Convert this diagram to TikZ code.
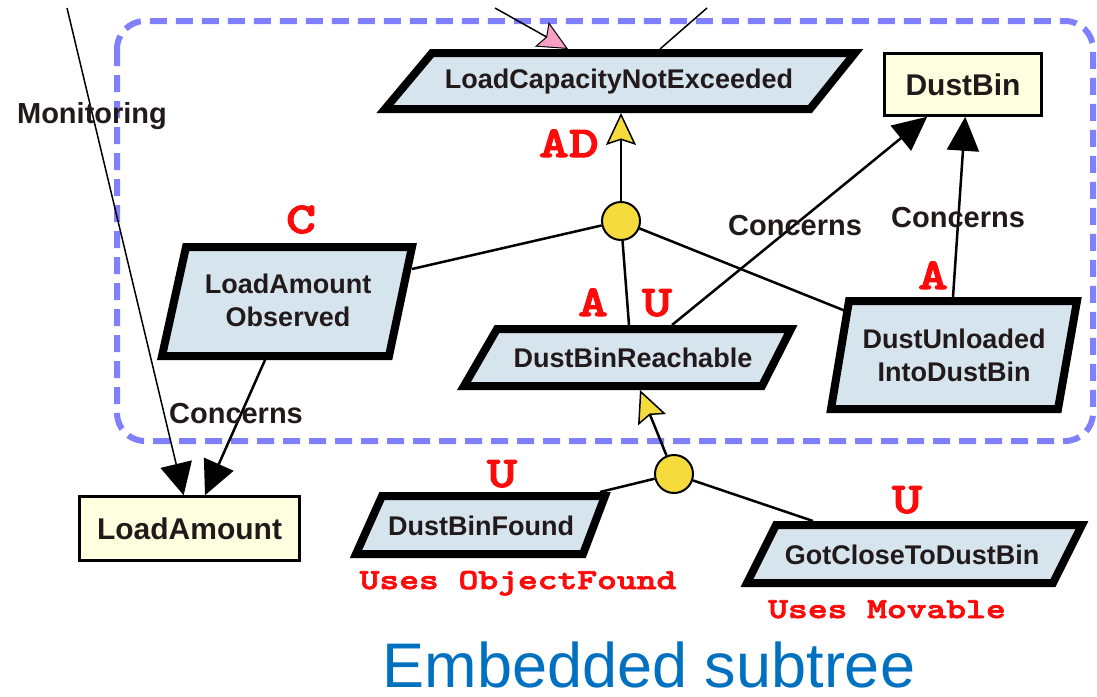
\documentclass[tikz,border=0pt]{standalone}
\usepackage{fontspec}
\setmainfont{Liberation Sans}
\newfontfamily\monotag{lmmonolt10-bold}[Extension=.otf, FakeStretch=1.3, FakeBold=2.5]
\usetikzlibrary{arrows.meta}

\definecolor{goalfill}{RGB}{214,228,238}
\definecolor{entfill}{RGB}{255,255,224}
\definecolor{andfill}{RGB}{245,220,60}
\definecolor{pinkfill}{RGB}{245,160,196}
\definecolor{frameblue}{RGB}{128,128,255}
\definecolor{capblue}{RGB}{0,112,192}
\definecolor{ink}{RGB}{34,26,26}
\definecolor{tagred}{RGB}{255,10,10}

\newcommand\goalfont{\fontsize{27}{33}\selectfont\bfseries}
\newcommand\entfont{\fontsize{30}{36}\selectfont\bfseries}
\newcommand\edgefont{\fontsize{29}{35}\selectfont\bfseries}
\newcommand\redtagfont{\fontsize{44}{50}\selectfont\monotag}
\newcommand\usesfont{\fontsize{29}{35}\selectfont\monotag}
\newcommand\capfont{\fontsize{63}{70}\selectfont}

\begin{document}
\begin{tikzpicture}[x=1pt,y=-1pt,
  scopeframe/.style={draw=frameblue, line width=6pt, dash pattern=on 17pt off 9pt, rounded corners=28pt},
  goal/.style={draw=black, line width=8pt, fill=goalfill, line join=miter, miter limit=20},
  gtext/.style={font=\goalfont, text=ink, inner sep=0pt, align=center},
  entity/.style={draw=black, line width=2.5pt, fill=entfill, font=\entfont, text=ink, inner sep=0pt},
  andnode/.style={circle, draw=black, line width=2pt, fill=andfill, minimum size=38pt, inner sep=0pt},
  link/.style={draw=black, line width=2.5pt},
  thin/.style={draw=black, line width=1.5pt},
  concern/.style={link, -{Triangle[length=34pt,width=32pt]}},
  monitor/.style={thin, -{Triangle[length=32pt,width=32pt]}},
  refine/.style={link, -{Stealth[length=32pt,width=30pt,inset=5pt,fill=andfill,line width=1.5pt]}},
  obstruct/.style={thin, -{Stealth[length=30pt,width=28pt,inset=5pt,fill=pinkfill,line width=1pt]}},
  elabel/.style={font=\edgefont, text=ink, inner sep=0pt, anchor=base},
  redtag/.style={font=\redtagfont, text=tagred, inner sep=0pt, anchor=base},
  usesnote/.style={font=\usesfont, text=tagred, inner sep=0pt, anchor=base}
]
\useasboundingbox (0,0) rectangle (1097,696);

% embedded subtree frame
\draw[scopeframe] (117,21) rectangle (1093,441);

% goal parallelograms
\path[goal] (432,53) -- (855,53) -- (810,109) -- (385,109) -- cycle;
\node[gtext, anchor=base] (lcne) at (619,88) {LoadCapacityNotExceeded};

\path[goal] (186,247) -- (412,247) -- (389,356) -- (162,356) -- cycle;
\node[gtext] (lao) at (288,300) {LoadAmount\\Observed};

\path[goal] (497,329) -- (791,329) -- (762,386) -- (464,386) -- cycle;
\node[gtext, anchor=base] (dbr) at (633,367) {DustBinReachable};

\path[goal] (849,301) -- (1077,301) -- (1058,409) -- (831,409) -- cycle;
\node[gtext] (du) at (954,355) {DustUnloaded\\IntoDustBin};

\path[goal] (382,496) -- (605,496) -- (583,554) -- (356,554) -- cycle;
\node[gtext, anchor=base] (dbf) at (481,535) {DustBinFound};

\path[goal] (776,525) -- (1082,525) -- (1053,583) -- (747,583) -- cycle;
\node[gtext, anchor=base] (gct) at (912,564) {GotCloseToDustBin};

% attachment points on the goal borders
\coordinate (lcne-in)  at (568,49);
\coordinate (lcne-in2) at (660,49);
\coordinate (lcne-b)   at (621,113);
\coordinate (lao-r)    at (412,269);
\coordinate (lao-b)    at (265,360);
\coordinate (dbr-t1)   at (629,325);
\coordinate (dbr-t2)   at (672,325);
\coordinate (dbr-b)    at (640,390);
\coordinate (du-l)     at (848,312);
\coordinate (du-t)     at (953,297);
\coordinate (dbf-t)    at (600,492);
\coordinate (gct-t)    at (813,521);
% incoming links from outside the frame
\coordinate (mon-src)  at (67,8);
\coordinate (obs-src)  at (495,8);
\coordinate (up-src)   at (707,8);

% entities
\node[entity, minimum width=220pt, minimum height=64pt] (loadamount) at (189.5,528.5) {LoadAmount};
\node[entity, minimum width=157pt, minimum height=62pt] (dustbin) at (963,84.5) {DustBin};

% refinement nodes
\node[andnode] (and1) at (621,221) {};
\node[andnode] (and2) at (674,474) {};

% connectors
\draw[obstruct] (obs-src) -- (lcne-in);
\draw[thin] (up-src) -- (lcne-in2);
\draw[monitor] (mon-src) -- (loadamount.100);
\draw[concern] (lao-b) -- (loadamount.65);
\draw[concern] (dbr-t2) -- (dustbin.222);
\draw[concern] (du-t) -- (dustbin.274);
\draw[refine] (and1) -- (lcne-b);
\draw[link] (and1) -- (lao-r);
\draw[link] (and1) -- (dbr-t1);
\draw[link] (and1) -- (du-l);
\draw[refine] (and2) -- (dbr-b);
\draw[link] (and2) -- (dbf-t);
\draw[link] (and2) -- (gct-t);

% edge labels
\node[elabel] (lbl-mon) at (92,123) {Monitoring};
\node[elabel] (lbl-c1) at (236,423) {Concerns};
\node[elabel] (lbl-c2) at (795,235) {Concerns};
\node[elabel] (lbl-c3) at (958,227) {Concerns};

% responsibility tags
\node[redtag] (tag-lao) at (301,233) {C};
\node[redtag] (tag-lcne) at (569,157) {AD};
\node[redtag] (tag-dbr-a) at (593,316) {A};
\node[redtag] (tag-dbr-u) at (657,316) {U};
\node[redtag] (tag-du) at (933,289) {A};
\node[redtag] (tag-dbf) at (502,487) {U};
\node[redtag] (tag-gct) at (907,513) {U};
\node[usesnote] (uses-dbf) at (518,589) {Uses ObjectFound};
\node[usesnote] (uses-gct) at (887,618) {Uses Movable};

% caption
\node[font=\capfont, text=capblue, inner sep=0pt, anchor=base] (caption) at (649,687) {Embedded subtree};
\end{tikzpicture}
\end{document}
